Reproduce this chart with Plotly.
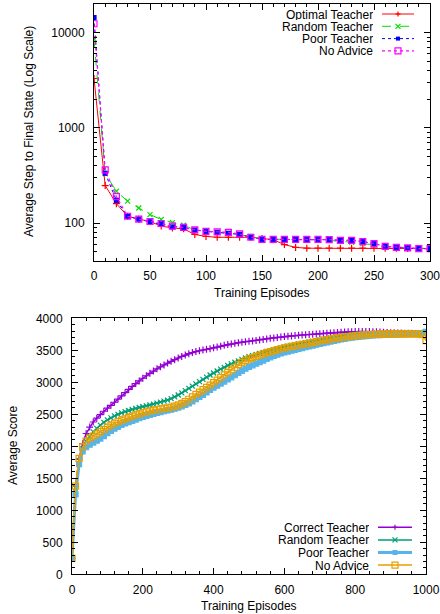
import plotly.graph_objects as go
import math

# ---------------- Top chart data ----------------
top_x = list(range(0, 301, 10))
optimal_teacher = [3300, 248, 160, 118, 110, 104, 93, 89, 87, 76, 72.5, 71, 71, 71, 71, 69,
                   67, 59.5, 55.6, 54.5, 54.5, 54.5, 54.5, 54.5, 54.5, 54.5, 54.5, 54.5, 54, 54, 54]
random_teacher = [8600, 330, 216, 170, 144, 123, 109, 101, 95, 85, 82, 80, 78.5, 76, 72.5, 68,
                  67.5, 67.5, 67.5, 67, 67, 66, 65, 63, 61, 59, 56, 55.5, 55, 54, 54]
poor_teacher = [14400, 334, 173, 118, 110, 103, 98, 91, 90, 84.5, 82, 80, 78, 76, 71, 67.5,
                67.5, 67.5, 67.5, 67.5, 67.5, 67, 66, 66, 64, 61, 57, 55.6, 55, 54, 54]
no_advice_top = [12400, 362, 190, 118, 110, 104, 99, 93, 90, 85, 82, 81, 80, 77, 71, 67.5,
                 67.5, 67.5, 67.5, 67.5, 67.5, 67, 66, 66, 64, 61, 57, 55.6, 55, 54, 54]
top_x_ticks = [0, 50, 100, 150, 200, 250, 300]
top_y_ticks = [100, 1000, 10000]
top_y_minor = [40, 50, 60, 70, 80, 90, 200, 300, 400, 500, 600, 700, 800, 900,
               2000, 3000, 4000, 5000, 6000, 7000, 8000, 9000, 20000]

# ---------------- Bottom chart data ----------------
bot_x = list(range(0, 1001, 10))
correct_teacher = [250, 1380, 1800, 2040, 2200, 2300, 2380, 2440, 2495, 2548,
                   2595, 2640, 2688, 2738, 2788, 2838, 2888, 2935, 2980, 3022,
                   3063, 3102, 3140, 3176, 3210, 3242, 3272, 3300, 3328, 3354,
                   3380, 3404, 3426, 3447, 3465, 3480, 3493, 3505, 3516, 3526,
                   3538, 3551, 3564, 3577, 3589, 3600, 3610, 3619, 3627, 3634,
                   3640, 3647, 3654, 3662, 3670, 3678, 3687, 3694, 3701, 3708,
                   3714, 3720, 3725, 3730, 3735, 3739, 3743, 3747, 3751, 3755,
                   3759, 3763, 3767, 3771, 3775, 3779, 3783, 3786, 3789, 3791,
                   3792, 3793, 3793, 3793, 3792, 3790, 3788, 3785, 3782, 3779,
                   3776, 3774, 3772, 3770, 3768, 3766, 3765, 3764, 3764, 3765, 3770]
random_teacher_b = [250, 1350, 1780, 1960, 2080, 2160, 2225, 2280, 2330, 2375,
                    2412, 2445, 2475, 2500, 2522, 2542, 2560, 2577, 2592, 2606,
                    2619, 2632, 2645, 2660, 2675, 2690, 2706, 2722, 2745, 2772,
                    2802, 2835, 2870, 2905, 2940, 2975, 3010, 3046, 3082, 3114,
                    3145, 3176, 3205, 3234, 3262, 3288, 3313, 3336, 3358, 3380,
                    3400, 3418, 3435, 3452, 3467, 3482, 3496, 3510, 3524, 3537,
                    3550, 3563, 3575, 3587, 3598, 3609, 3620, 3631, 3642, 3652,
                    3662, 3672, 3682, 3692, 3702, 3711, 3720, 3728, 3736, 3743,
                    3749, 3754, 3758, 3761, 3763, 3765, 3766, 3767, 3767, 3768,
                    3768, 3768, 3768, 3768, 3767, 3767, 3767, 3768, 3770, 3773, 3778]
poor_teacher_b = [250, 1250, 1720, 1920, 1985, 2025, 2058, 2088, 2120, 2160,
                  2205, 2240, 2275, 2305, 2335, 2358, 2378, 2398, 2418, 2438,
                  2458, 2475, 2490, 2505, 2520, 2535, 2548, 2560, 2572, 2588,
                  2605, 2625, 2648, 2670, 2700, 2735, 2770, 2805, 2842, 2880,
                  2915, 2948, 2980, 3012, 3045, 3078, 3110, 3145, 3180, 3212,
                  3240, 3265, 3290, 3315, 3340, 3365, 3390, 3412, 3432, 3450,
                  3466, 3480, 3494, 3508, 3522, 3535, 3548, 3560, 3574, 3588,
                  3600, 3612, 3624, 3636, 3648, 3659, 3669, 3679, 3688, 3697,
                  3704, 3711, 3717, 3722, 3727, 3731, 3735, 3738, 3740, 3742,
                  3744, 3746, 3748, 3750, 3751, 3752, 3753, 3755, 3760, 3770, 3790]
no_advice_b = [250, 1380, 1810, 1990, 2080, 2125, 2160, 2195, 2230, 2265,
               2300, 2330, 2360, 2385, 2408, 2430, 2452, 2472, 2490, 2508,
               2524, 2540, 2555, 2566, 2575, 2583, 2592, 2600, 2612, 2628,
               2648, 2672, 2700, 2735, 2772, 2810, 2848, 2885, 2920, 2955,
               2995, 3035, 3075, 3115, 3155, 3195, 3235, 3275, 3310, 3340,
               3365, 3385, 3405, 3425, 3445, 3463, 3480, 3495, 3510, 3524,
               3538, 3550, 3561, 3572, 3582, 3592, 3602, 3612, 3624, 3635,
               3645, 3655, 3665, 3675, 3685, 3694, 3702, 3709, 3715, 3721,
               3727, 3732, 3737, 3741, 3744, 3747, 3750, 3752, 3754, 3755,
               3756, 3757, 3757, 3757, 3757, 3756, 3756, 3755, 3753, 3745, 3650]

W, H = 440, 614
FONT = "Liberation Sans"


def px(x):
    return x / W


def py(y):
    return 1 - y / H


fig = go.Figure()

# ---- top traces ----
top_series = [
    ("Optimal Teacher", optimal_teacher, "#ff0000", "solid", "cross-thin-open", 5, 1),
    ("Random Teacher", random_teacher, "#00e000", "dash", "x-thin-open", 5, 1),
    ("Poor Teacher", poor_teacher, "#0000ff", "dot", "square", 4, 1),
    ("No Advice", no_advice_top, "#ff00ff", "dot", "square-open", 6, 1.2),
]
for name, ys, col, dash, sym, sz, lw in top_series:
    fig.add_trace(go.Scatter(
        x=top_x, y=ys, name=name, mode="lines+markers",
        line=dict(color=col, width=lw, dash=dash),
        marker=dict(symbol=sym, size=sz, color=col, line=dict(color=col, width=1.2)),
        xaxis="x", yaxis="y", showlegend=False))

# ---- bottom traces ----
bot_series = [
    ("Correct Teacher", correct_teacher, "#9400d3", "cross-thin-open", 5, 1.5),
    ("Random Teacher", random_teacher_b, "#009e73", "x-thin-open", 5, 1.5),
    ("Poor Teacher", poor_teacher_b, "#56b4e9", "square", 5, 3),
    ("No Advice", no_advice_b, "#e69f00", "square-open", 6, 1.5),
]
for name, ys, col, sym, sz, lw in bot_series:
    fig.add_trace(go.Scatter(
        x=bot_x, y=ys, name=name, mode="lines+markers",
        line=dict(color=col, width=lw),
        marker=dict(symbol=sym, size=sz, color=col, line=dict(color=col, width=1.2)),
        xaxis="x2", yaxis="y2", showlegend=False))

axis_common = dict(showline=True, linecolor="black", linewidth=1, mirror="allticks",
                   ticks="inside", ticklen=6, tickcolor="black", showgrid=False,
                   zeroline=False, automargin=False, ticklabeloverflow="allow",
                   tickfont=dict(family=FONT, size=12, color="black"))

fig.update_layout(
    width=W, height=H, margin=dict(l=0, r=0, t=0, b=0, autoexpand=False),
    paper_bgcolor="white", plot_bgcolor="white",
    font=dict(family=FONT, size=12, color="black"),
    xaxis=dict(domain=[px(94), px(430)], anchor="y", range=[0, 300],
               tickmode="array", tickvals=top_x_ticks, ticktext=[str(v) for v in top_x_ticks],
               minor=dict(ticks="inside", ticklen=3, dtick=10, tick0=0, tickcolor="black"),
               ticklabelstandoff=4, **axis_common),
    yaxis=dict(domain=[py(261), py(4)], anchor="x", type="log",
               range=[math.log10(40), math.log10(20000)],
               tickmode="array", tickvals=top_y_ticks, ticktext=[str(v) for v in top_y_ticks],
               minor=dict(ticks="inside", ticklen=3, tickcolor="black",
                          tickmode="array", tickvals=top_y_minor),
               ticklabelstandoff=6, **axis_common),
    xaxis2=dict(domain=[px(72), px(426)], anchor="y2", range=[0, 1000], dtick=200,
                minor=dict(ticks="inside", ticklen=3, dtick=40, tickcolor="black"),
                ticklabelstandoff=4, **axis_common),
    yaxis2=dict(domain=[py(574.3), py(318.3)], anchor="x2", range=[0, 4000], dtick=500,
                minor=dict(ticks="inside", ticklen=3, dtick=100, tickcolor="black"),
                ticklabelstandoff=6, **axis_common),
)

ann = []
# axis titles
ann.append(dict(text="Training Episodes", x=px(262), y=py(293), xref="paper", yref="paper",
                showarrow=False, xanchor="center", yanchor="middle"))
ann.append(dict(text="Average Step to Final State (Log Scale)", x=px(29), y=py(132),
                xref="paper", yref="paper", showarrow=False, textangle=-90,
                xanchor="center", yanchor="middle"))
ann.append(dict(text="Training Episodes", x=px(249), y=py(606), xref="paper", yref="paper",
                showarrow=False, xanchor="center", yanchor="middle"))
ann.append(dict(text="Average Score", x=px(13), y=py(446), xref="paper", yref="paper",
                showarrow=False, textangle=-90, xanchor="center", yanchor="middle"))

shapes = []


def legend_key(name, col, dash, sym, lw, text_right, x0, x1, yrow, msize):
    ann.append(dict(text=name, x=px(text_right), y=py(yrow), xref="paper", yref="paper",
                    showarrow=False, xanchor="right", yanchor="middle",
                    height=11, borderpad=0, valign="middle"))
    shapes.append(dict(type="line", xref="paper", yref="paper", x0=px(x0), x1=px(x1),
                       y0=py(yrow), y1=py(yrow), line=dict(color=col, width=lw, dash=dash)))
    cx = (x0 + x1) / 2
    h = msize / 2
    if sym.startswith("cross"):
        shapes.append(dict(type="line", xref="paper", yref="paper", x0=px(cx - h), x1=px(cx + h),
                           y0=py(yrow), y1=py(yrow), line=dict(color=col, width=1.2)))
        shapes.append(dict(type="line", xref="paper", yref="paper", x0=px(cx), x1=px(cx),
                           y0=py(yrow - h), y1=py(yrow + h), line=dict(color=col, width=1.2)))
    elif sym.startswith("x"):
        shapes.append(dict(type="line", xref="paper", yref="paper", x0=px(cx - h), x1=px(cx + h),
                           y0=py(yrow - h), y1=py(yrow + h), line=dict(color=col, width=1.2)))
        shapes.append(dict(type="line", xref="paper", yref="paper", x0=px(cx - h), x1=px(cx + h),
                           y0=py(yrow + h), y1=py(yrow - h), line=dict(color=col, width=1.2)))
    elif sym == "square":
        shapes.append(dict(type="rect", xref="paper", yref="paper", x0=px(cx - h), x1=px(cx + h),
                           y0=py(yrow - h), y1=py(yrow + h), fillcolor=col, line=dict(width=0)))
    else:
        shapes.append(dict(type="rect", xref="paper", yref="paper", x0=px(cx - h), x1=px(cx + h),
                           y0=py(yrow - h), y1=py(yrow + h), fillcolor="rgba(0,0,0,0)",
                           line=dict(color=col, width=1.2)))


for i, (name, ys, col, dash, sym, sz, lw) in enumerate(top_series):
    legend_key(name, col, dash, sym, lw, 374, 382, 414, 14 + 12.3 * i, sz)
for i, (name, ys, col, sym, sz, lw) in enumerate(bot_series):
    legend_key(name, col, "solid", sym, lw, 370, 378, 412, 527.3 + 12.6 * i, sz)

fig.update_layout(annotations=ann, shapes=shapes)
fig.write_html("out.html", config={"displayModeBar": False},
               post_script="document.body.style.margin='0';document.body.style.overflow='hidden';")
